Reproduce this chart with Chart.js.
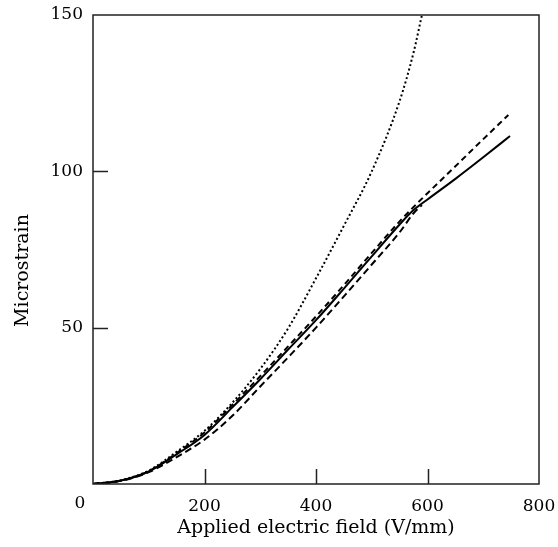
<!DOCTYPE html>
<html>
<head>
<meta charset="utf-8">
<script src="https://cdn.jsdelivr.net/npm/chart.js@4/dist/chart.umd.min.js"></script>
<style>
  html, body { margin: 0; padding: 0; background: #fff; }
  #wrap { width: 558px; height: 547px; }
</style>
</head>
<body>
<div id="wrap"><canvas id="strain-chart"></canvas></div>
<script>
// --- Data ---
const solidField = [0, 50, 100, 150, 200, 250, 300, 350, 400, 450, 500, 550, 575, 600, 650, 700, 748];
const solidStrain = [0, 1.1, 4.0, 9.5, 15.7, 24.5, 33.5, 43, 52.4, 62.5, 72.8, 83, 87.6, 91, 97.6, 104.5, 111.3];

const upperDashField = [0, 50, 100, 150, 200, 250, 300, 350, 400, 450, 500, 550, 575, 600, 650, 700, 745];
const upperDashStrain = [0, 1.1, 4.1, 9.9, 16.5, 25.3, 34.5, 44, 53.6, 63.6, 73.9, 84, 88.6, 93, 101.6, 110.3, 118];

const lowerDashField = [0, 50, 100, 150, 200, 250, 300, 350, 400, 450, 500, 550, 575, 590];
const lowerDashStrain = [0, 1.0, 3.8, 8.6, 14.2, 21.8, 31.2, 40.5, 50, 60, 70.2, 80.5, 86.6, 89.2];

const dottedField = [0, 50, 100, 150, 200, 250, 300, 350, 400, 450, 500, 550, 575, 590];
const dottedStrain = [0, 1.2, 4.3, 10.3, 17, 26, 36.8, 49.8, 65.8, 82.6, 100, 122.5, 138, 150];

const xTicks = [0, 200, 400, 600, 800];
const yTicks = [50, 100, 150];
const yTitle = 'Microstrain';

const toPoints = (xs, ys) => xs.map((x, i) => ({ x: x, y: ys[i] }));

const FONT = { family: '"DejaVu Serif", "Liberation Serif", serif', size: 17 };
const TITLE_FONT = { family: '"DejaVu Serif", "Liberation Serif", serif', size: 19 };

// frame, inward ticks, the shared origin label and the y title
const framePlugin = {
    id: 'frame',
    afterDraw(chart) {
        const { ctx, chartArea: a, scales } = chart;
        ctx.save();
        ctx.strokeStyle = '#222';
        ctx.lineWidth = 1.5;
        ctx.strokeRect(a.left, a.top, a.right - a.left, a.bottom - a.top);
        ctx.beginPath();
        xTicks.slice(1, -1).forEach(v => {
            const px = Math.round(scales.x.getPixelForValue(v)) + 0.5;
            ctx.moveTo(px, a.bottom);
            ctx.lineTo(px, a.bottom - 15);
        });
        yTicks.slice(0, -1).forEach(v => {
            const py = Math.round(scales.y.getPixelForValue(v)) + 0.5;
            ctx.moveTo(a.left, py);
            ctx.lineTo(a.left + 15, py);
        });
        ctx.stroke();

        ctx.fillStyle = '#000';
        ctx.textAlign = 'center';
        ctx.textBaseline = 'middle';
        ctx.font = FONT.size + 'px ' + FONT.family;
        ctx.fillText('0', a.left - 13, a.bottom + 20);

        // y title sits a little below the middle of the axis in the original
        ctx.font = TITLE_FONT.size + 'px ' + TITLE_FONT.family;
        ctx.translate(23, (a.top + a.bottom) / 2 + 21);
        ctx.rotate(-Math.PI / 2);
        ctx.fillText(yTitle, 0, 0);
        ctx.restore();
    }
};

const lineStyle = (dash) => ({
    borderColor: '#000',
    borderWidth: 2,
    borderDash: dash,
    pointRadius: 0,
    fill: false,
    tension: 0.4,
    cubicInterpolationMode: 'monotone'
});

const chart = new Chart(document.getElementById('strain-chart'), {
    type: 'line',
    data: {
        datasets: [
            { label: 'Dotted', data: toPoints(dottedField, dottedStrain), ...lineStyle([2, 2.5]) },
            { label: 'Lower dashed', data: toPoints(lowerDashField, lowerDashStrain), ...lineStyle([7, 4]) },
            { label: 'Upper dashed', data: toPoints(upperDashField, upperDashStrain), ...lineStyle([6, 4]) },
            { label: 'Solid', data: toPoints(solidField, solidStrain), ...lineStyle([]) }
        ]
    },
    options: {
        responsive: true,
        maintainAspectRatio: false,
        animation: false,
        layout: { padding: { top: 15, right: 19, left: 0, bottom: 0 } },
        plugins: {
            legend: { display: false },
            tooltip: { enabled: false }
        },
        scales: {
            x: {
                type: 'linear',
                min: 0,
                max: 800,
                afterFit: s => {
                    s.height = 63;
                    s.paddingLeft = 0;
                    s.paddingRight = 0;
                },
                grid: { display: false, drawTicks: false },
                border: { display: false },
                ticks: {
                    stepSize: 200,
                    padding: 12,
                    color: '#000',
                    font: FONT,
                    maxRotation: 0,
                    callback: v => (v === 0 ? '' : v)
                },
                title: {
                    display: true,
                    text: 'Applied electric field (V/mm)',
                    color: '#000',
                    font: TITLE_FONT,
                    padding: { top: 0, bottom: 8 }
                }
            },
            y: {
                min: 0,
                max: 150,
                afterFit: s => {
                    s.width = 93;
                    s.paddingTop = 0;
                    s.paddingBottom = 0;
                },
                grid: { display: false, drawTicks: false },
                border: { display: false },
                ticks: {
                    stepSize: 50,
                    padding: 10,
                    color: '#000',
                    font: FONT,
                    callback: v => (v === 0 ? '' : v)
                },
                title: { display: false }
            }
        }
    },
    plugins: [framePlugin]
});
</script>
</body>
</html>
